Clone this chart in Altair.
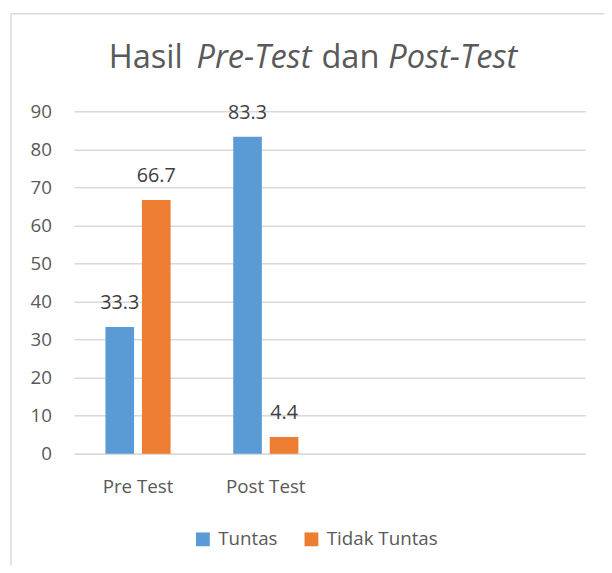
import altair as alt
import pandas as pd

# ---- data ----
categories = ["Pre Test", "Post Test"]
all_slots = ["Pre Test", "Post Test", "_3", "_4"]  # Excel left two empty category slots
series = ["Tuntas", "Tidak Tuntas"]
tuntas = [33.3, 83.3]
tidak_tuntas = [66.7, 4.4]
colors = ["#5B9BD5", "#ED7D31"]
y_ticks = [0, 10, 20, 30, 40, 50, 60, 70, 80, 90]

rows = []
for i, c in enumerate(categories):
    rows.append({"cat": c, "series": series[0], "value": tuntas[i], "label": f"{tuntas[i]:.1f}"})
    rows.append({"cat": c, "series": series[1], "value": tidak_tuntas[i], "label": f"{tidak_tuntas[i]:.1f}"})
df = pd.DataFrame(rows)

FONT = "Open Sans"
TXT = "#595959"
GRID = "#d9d9d9"

x_enc = alt.X(
    "cat:N",
    sort=all_slots,
    scale=alt.Scale(domain=all_slots, paddingInner=0, paddingOuter=0),
    axis=alt.Axis(
        title=None, labelAngle=0, ticks=False, domainColor=GRID, domainWidth=1.5,
        labelExpr="indexof(datum.value, '_') == 0 ? '' : datum.value",
        labelFont=FONT, labelFontSize=19, labelColor=TXT, labelPadding=24, grid=False,
    ),
)
xo_enc = alt.XOffset(
    "series:N",
    sort=series,
    scale=alt.Scale(domain=series, paddingInner=0.2162, paddingOuter=0.858),
)
y_enc = alt.Y(
    "value:Q",
    scale=alt.Scale(domain=[0, 90], nice=False, zero=True),
    axis=alt.Axis(
        title=None, values=y_ticks, ticks=False, domain=False, grid=True,
        gridColor=GRID, gridWidth=1.5, labelFont=FONT, labelFontSize=19,
        labelColor=TXT, labelPadding=23,
    ),
)
color_enc = alt.Color(
    "series:N",
    sort=series,
    scale=alt.Scale(domain=series, range=colors),
    legend=alt.Legend(
        title=None, orient="none", legendX=121, legendY=424, direction="horizontal",
        symbolType="square", symbolSize=196, symbolStrokeWidth=0, symbolOpacity=1,
        labelFont=FONT, labelFontSize=19, labelColor=TXT, labelOffset=6,
        columnPadding=24, padding=0,
    ),
)

bars = alt.Chart(df).mark_bar(width=29).encode(
    x=x_enc, xOffset=xo_enc, y=y_enc, color=color_enc
)

labels = alt.Chart(df).mark_text(
    baseline="alphabetic", dy=-18, font=FONT, fontSize=20, color="#404040"
).encode(x=x_enc, xOffset=xo_enc, y=y_enc, text="label:N")

# title pieces (mixed upright / italic)
title_parts = [
    ("Hasil", "normal", "left", 35),
    ("Pre-Test", "italic", "left", 124),
    ("dan", "normal", "center", 280),
    ("Post-Test", "italic", "right", 449),
]
title_layers = []
for txt, style, al, xpos in title_parts:
    title_layers.append(
        alt.Chart(alt.Data(values=[{"t": txt}])).mark_text(
            align=al, baseline="alphabetic", font=FONT, fontSize=33,
            fontStyle=style, color=TXT,
        ).encode(x=alt.value(xpos), y=alt.value(-44), text="t:N")
    )

frame_top = alt.Chart(alt.Data(values=[{}])).mark_rule(color=GRID, strokeWidth=1.5).encode(
    x=alt.value(-64), x2=alt.value(700), y=alt.value(-99)
)
frame_left = alt.Chart(alt.Data(values=[{}])).mark_rule(color=GRID, strokeWidth=1.5).encode(
    x=alt.value(-64), y=alt.value(-99), y2=alt.value(600)
)

chart = alt.layer(frame_top, frame_left, bars, labels, *title_layers).properties(
    width=518, height=347,
    autosize=alt.AutoSizeParams(type="none"),
    padding={"left": 67, "top": 101, "right": 19, "bottom": 109},
).configure_view(stroke=None)

chart.save("out.html", embed_options={"renderer": "svg", "actions": False})
